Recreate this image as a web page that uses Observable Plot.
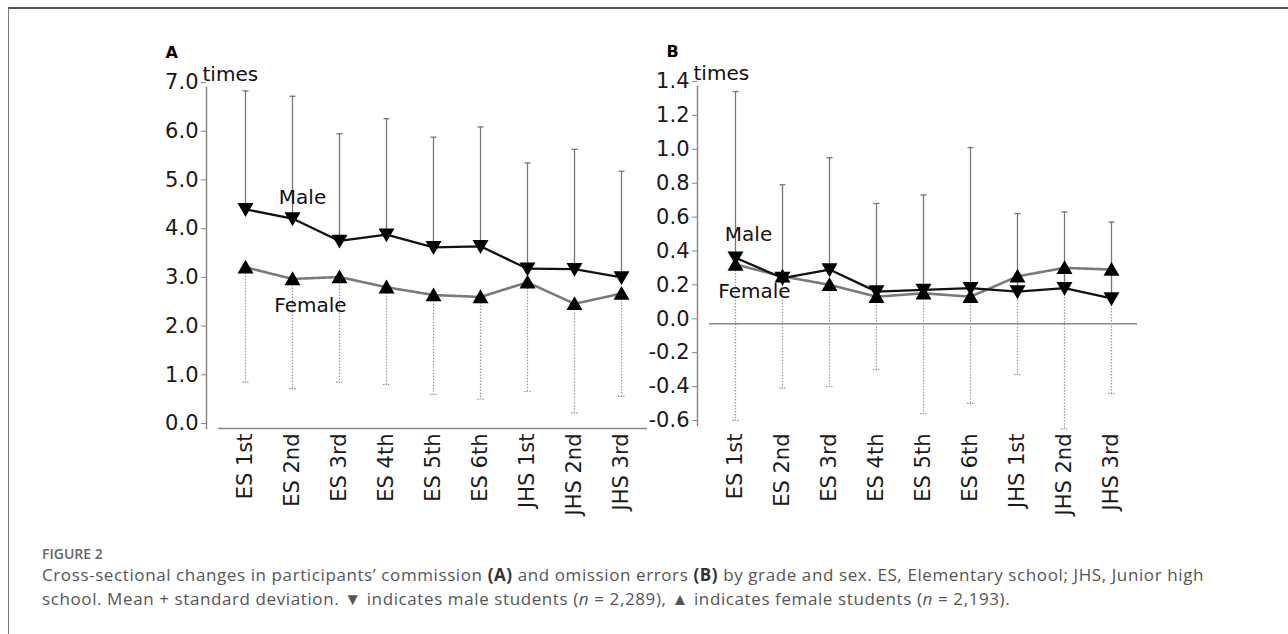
<!DOCTYPE html>
<html><head><meta charset="utf-8">
<script src="https://cdn.jsdelivr.net/npm/d3@7"></script>
<script src="https://cdn.jsdelivr.net/npm/@observablehq/plot@0.6"></script>
<style>
body{margin:0;background:#fff;}
#fig{position:relative;width:1288px;height:634px;overflow:hidden;background:#fff;}
#box{position:absolute;left:8px;top:7px;width:1300px;height:700px;border-left:1.5px solid #777;border-top:2px solid #555;box-sizing:border-box;}
#pa{position:absolute;left:0;top:0;width:648px;}
#pb{position:absolute;left:648px;top:0;width:640px;}
#cap{position:absolute;left:42px;top:545px;font-family:"Open Sans",Lato,sans-serif;white-space:nowrap;}
#cap .f{font-size:14px;line-height:18px;color:#666;font-weight:600;}
#cap .t{font-size:17px;line-height:24px;color:#555;}
#cap b{font-weight:700;color:#333;}
</style></head>
<body>
<div id="fig">
  <div id="box"></div>
  <div id="pa"></div>
  <div id="pb"></div>
  <div id="cap">
    <div class="f">FIGURE 2</div>
    <div class="t"><span id="l1">Cross-sectional changes in participants’ commission <b>(A)</b> and omission errors <b>(B)</b> by grade and sex. ES, Elementary school; JHS, Junior high</span><br><span id="l2">school. Mean + standard deviation. ▼ indicates male students (<i>n</i> = 2,289), ▲ indicates female students (<i>n</i> = 2,193).</span></div>
  </div>
</div>
<script>
const grades = ["ES 1st","ES 2nd","ES 3rd","ES 4th","ES 5th","ES 6th","JHS 1st","JHS 2nd","JHS 3rd"];

// Panel A: commission errors (times)
const maleMeanA   = [4.50,4.31,3.85,3.98,3.72,3.74,3.28,3.27,3.10];
const maleSdA     = [2.43,2.51,2.20,2.38,2.26,2.45,2.17,2.46,2.18];
const femaleMeanA = [3.31,3.07,3.11,2.90,2.74,2.70,3.00,2.56,2.77];
const femaleSdA   = [2.36,2.25,2.16,2.00,2.04,2.10,2.24,2.24,2.11];
const yTicksA = [0,1,2,3,4,5,6,7];

// Panel B: omission errors (times)
const maleMeanB   = [0.39,0.27,0.32,0.19,0.20,0.21,0.19,0.21,0.15];
const maleSdB     = [0.98,0.55,0.66,0.52,0.56,0.83,0.46,0.45,0.45];
const femaleMeanB = [0.35,0.28,0.23,0.16,0.18,0.16,0.28,0.33,0.32];
const femaleSdB   = [0.92,0.66,0.60,0.43,0.71,0.63,0.58,0.95,0.73];
const yTicksB = [-0.6,-0.4,-0.2,0,0.2,0.4,0.6,0.8,1.0,1.2,1.4];

const seriesLabelsA = [{text:"Male", g:"ES 2nd", v:4.74, dx:10},{text:"Female", g:"ES 2nd", v:2.53, dx:18}];
const seriesLabelsB = [{text:"Male", g:"ES 1st", v:0.527, dx:13},{text:"Female", g:"ES 1st", v:0.19, dx:19}];

const FONT = "DejaVu Sans";

function triangle(dir){
  return {draw(ctx, size){
    const r = Math.sqrt(size/Math.PI);
    const w = r, h = r*1.73;
    if (dir === "down"){ ctx.moveTo(-w,-h*0.45); ctx.lineTo(w,-h*0.45); ctx.lineTo(0,h*0.55); }
    else { ctx.moveTo(-w,h*0.45); ctx.lineTo(w,h*0.45); ctx.lineTo(0,-h*0.55); }
    ctx.closePath();
  }};
}
const cap = {draw(ctx, size){ const r = Math.sqrt(size/Math.PI); ctx.moveTo(-r,0); ctx.lineTo(r,0); }};

function build(o){
  const male = grades.map((g,i)=>({g, m:o.maleMean[i], hi:o.maleMean[i]+o.maleSd[i]}));
  const female = grades.map((g,i)=>({g, m:o.femaleMean[i], lo:o.femaleMean[i]-o.femaleSd[i]}));
  const labelMarks = o.labels.map(l => Plot.text([l], {x:"g", y:"v", text:"text", dx:l.dx, fontSize:20, fill:"#111"}));
  return Plot.plot({
    width:o.width, height:o.height,
    marginLeft:o.ml, marginRight:o.mr, marginTop:o.mt, marginBottom:o.mb,
    style:{background:"transparent", fontFamily:FONT, overflow:"visible", color:"#222", maxWidth:"none"},
    x:{type:"point", domain:grades, padding:0.632, align:0.6},
    y:{domain:o.yDomain},
    marks:[
      Plot.frame({anchor:"left", stroke:"#888", strokeWidth:1.5}),
      Plot.ruleY([0], {insetLeft:12, stroke:"#888", strokeWidth:1.5}),
      Plot.axisY({ticks:o.yTicks, tickFormat:d=>d.toFixed(1), tickSize:5, tickPadding:3, fontSize:21, stroke:"#888", fill:"#1a1a1a", dy:-5, label:null}),
      Plot.axisX({tickRotate:-90, tickSize:0, tickPadding:o.xPad, fontSize:21, fill:"#1a1a1a", label:null}),
      Plot.ruleX(female, {x:"g", y1:"m", y2:"lo", stroke:"#999", strokeWidth:1.2, strokeDasharray:"1.5,1.5"}),
      Plot.dot(female, {x:"g", y:"lo", symbol:cap, r:3.5, stroke:"#999", strokeWidth:1.2, strokeDasharray:"1.5,1", fill:"none"}),
      Plot.ruleX(male, {x:"g", y1:"m", y2:"hi", stroke:"#777", strokeWidth:1.3}),
      Plot.dot(male, {x:"g", y:"hi", symbol:cap, r:3, stroke:"#777", strokeWidth:1.3, fill:"none"}),
      Plot.line(female, {x:"g", y:"m", stroke:"#7a7a7a", strokeWidth:2.6, strokeDasharray:"1.5,1"}),
      Plot.line(male, {x:"g", y:"m", stroke:"#111", strokeWidth:2.3}),
      Plot.dot(female, {x:"g", y:"m", symbol:triangle("up"), r:8, fill:"#000", stroke:"none"}),
      Plot.dot(male, {x:"g", y:"m", symbol:triangle("down"), r:8, fill:"#000", stroke:"none"}),
      ...labelMarks,
      Plot.text([o.letter], {frameAnchor:"top-left", dx:o.letterDx, dy:-30, fontSize:16, fontWeight:"bold", fill:"#000", textAnchor:"start", lineAnchor:"bottom"}),
      Plot.text(["times"], {frameAnchor:"top-left", dx:-4, dy:-7, fontSize:20, fill:"#111", textAnchor:"start", lineAnchor:"bottom"})
    ]
  });
}

document.getElementById("pa").append(build({
  letter:"A", letterDx:-41, maleMean:maleMeanA, maleSd:maleSdA, femaleMean:femaleMeanA, femaleSd:femaleSdA,
  yDomain:[0,7], yTicks:yTicksA, labels:seriesLabelsA,
  width:648, height:530, ml:206, mr:1, mt:87, mb:102, xPad:5
}));
document.getElementById("pb").append(build({
  letter:"B", letterDx:-31, maleMean:maleMeanB, maleSd:maleSdB, femaleMean:femaleMeanB, femaleSd:femaleSdB,
  yDomain:[-0.6,1.4], yTicks:yTicksB, labels:seriesLabelsB,
  width:640, height:530, ml:49, mr:151, mt:86, mb:105, xPad:8
}));

// stretch caption line 1 to the reference width via letter-spacing
(function(){
  const l1 = document.getElementById("l1"), l2 = document.getElementById("l2");
  const target = 1162;
  const w = l1.getBoundingClientRect().width;
  const n = l1.textContent.length;
  const ls = (target - w) / n;
  l1.parentNode.style.letterSpacing = ls + "px";
})();
</script>
</body></html>
